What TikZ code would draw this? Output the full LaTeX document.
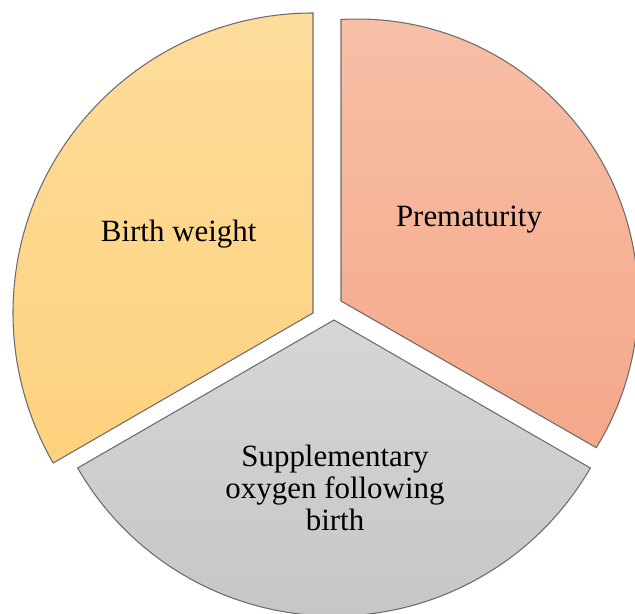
\documentclass[tikz,border=0pt]{standalone}
\usepackage{fontspec}
\setmainfont{Liberation Serif}
\definecolor{yltop}{RGB}{254,220,155}
\definecolor{ylbot}{RGB}{253,210,126}
\definecolor{ortop}{RGB}{247,192,167}
\definecolor{orbot}{RGB}{245,167,137}
\definecolor{gytop}{RGB}{214,214,214}
\definecolor{gybot}{RGB}{196,196,196}
\begin{document}
\begin{tikzpicture}[x=0.02cm,y=0.02cm,
  pc/.style={draw=black!58,line width=0.6pt},
  lb/.style={font=\fontsize{17.6}{18}\selectfont,align=center,inner sep=0pt}]
  \useasboundingbox (0,0) rectangle (635,613);
  \clip (0,0) rectangle (635,613);
  % the three pieces
  \draw[pc,top color=yltop,bottom color=ylbot] (313,300) -- ++(90:300)
    arc[start angle=90,end angle=210,radius=300] -- cycle;
  \draw[pc,top color=ortop,bottom color=orbot] (341,312) -- (341,593.5)
    arc[start angle=93.3,end angle=-31.7,radius=281] -- cycle;
  \draw[pc,top color=gytop,bottom color=gybot] (334,293) -- ++(210:296)
    arc[start angle=210,end angle=330,radius=296] -- cycle;
  % labels
  \node[lb,anchor=base] (bw) at (178.7,371.3) {Birth weight};
  \node[lb,anchor=base] (pm) at (469,386.3) {Prematurity};
  \node[lb] (so) at (335,125) {Supplementary\\oxygen following\\birth};
\end{tikzpicture}
\end{document}
